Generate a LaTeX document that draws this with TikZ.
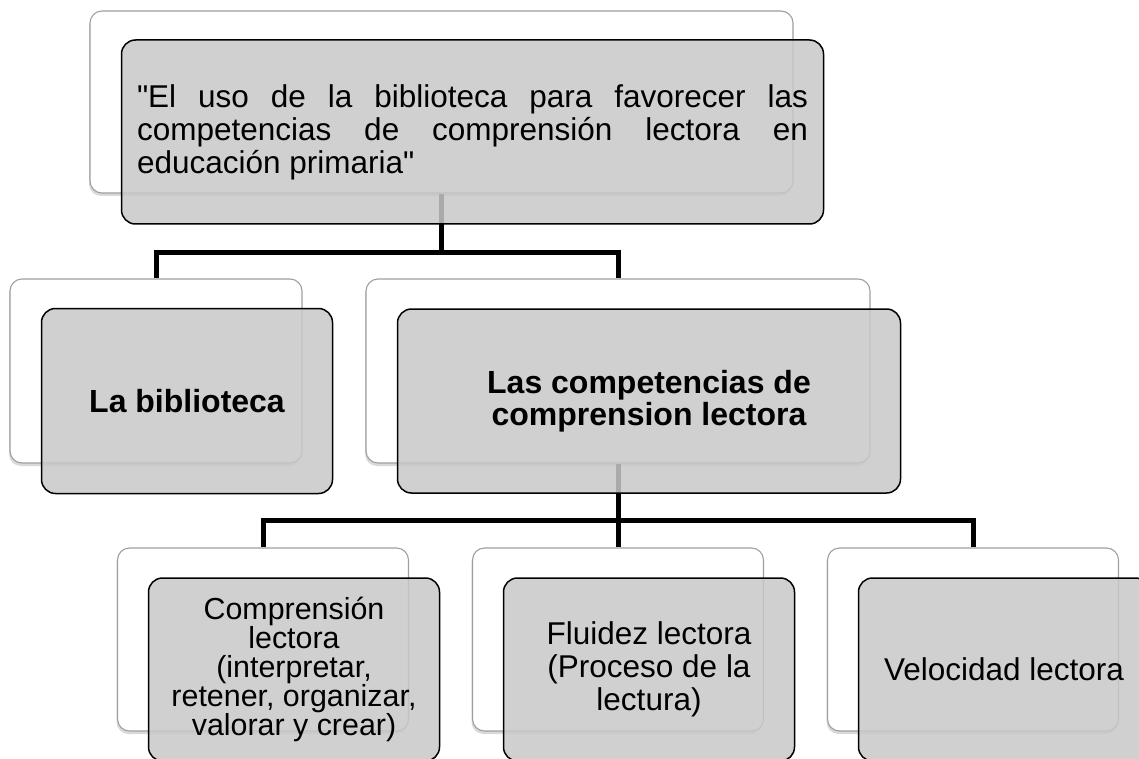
\documentclass[tikz,border=0pt]{standalone}
\usepackage{fontspec}
\setmainfont{Liberation Sans}[Ligatures=TeXOff]
\usetikzlibrary{shadows}

\begin{document}
\begin{tikzpicture}[x=1pt,y=-1pt,
  back node/.style={rectangle,rounded corners=12pt,draw=gray!75,line width=1.1pt,fill=white,
    drop shadow={shadow xshift=-1pt,shadow yshift=-3pt,opacity=0.3},inner sep=0pt},
  front node/.style={rectangle,rounded corners=14pt,draw=black,line width=1.5pt,
    fill=gray!43,fill opacity=0.85,text opacity=1,inner sep=0pt,xshift=31pt,yshift=-30pt},
  level3/.style={minimum width=291pt,minimum height=183pt},
  link/.style={line width=5pt,draw=black}]

  \useasboundingbox (0,0) rectangle (1139,759);

  % back cards
  \node[back node,minimum width=703pt,minimum height=182pt] (title back) at (441.5,102) {};
  \node[back node,minimum width=292pt,minimum height=184pt] (lib back) at (156,371) {};
  \node[back node,minimum width=504pt,minimum height=184pt] (cl back) at (618,371) {};
  \node[back node,level3] (cmp back) at (263,639.5) {};
  \node[back node,level3] (flu back) at (618,639.5) {};
  \node[back node,level3] (vel back) at (973,639.5) {};

  % connectors
  \coordinate (fork1) at (441.5,252);
  \coordinate (fork2) at (618,520);
  \draw[link] (title back.south) -- (fork1);
  \draw[link] (lib back.north) |- (fork1) -| (cl back.north);
  \draw[link] (cl back.south) -- (flu back.north);
  \draw[link] (cmp back.north) |- (fork2) -| (vel back.north);

  % front cards
  \node[front node,minimum width=702pt,minimum height=184pt,text width=671pt,align=justify,
    font={\fontsize{31.5}{33}\selectfont\spaceskip=8.7pt plus 60pt\relax\hbadness=10000\relax}] (title) at (title back)
    {"El uso de la biblioteca para favorecer las\linebreak competencias de comprensión lectora en\linebreak educación primaria"};
  \node[front node,minimum width=291pt,minimum height=185pt,align=center,
    font=\fontsize{32}{32}\selectfont\bfseries] (lib) at (lib back) {La biblioteca};
  \node[front node,minimum width=503pt,minimum height=184pt,align=center,
    font=\fontsize{32}{32}\selectfont\bfseries] (cl) at (cl back) {Las competencias de\\comprension lectora};
  \node[front node,level3,align=center,font=\fontsize{30.4}{28.3}\selectfont] (cmp) at (cmp back)
    {Comprensión\\lectora\\(interpretar,\\retener, organizar,\\valorar y crear)};
  \node[front node,level3,align=center,font=\fontsize{31.5}{33}\selectfont] (flu) at (flu back)
    {Fluidez lectora\\(Proceso de la\\lectura)};
  \node[front node,level3,align=center,font=\fontsize{31.5}{33}\selectfont] (vel) at (vel back)
    {Velocidad lectora};
\end{tikzpicture}
\end{document}
